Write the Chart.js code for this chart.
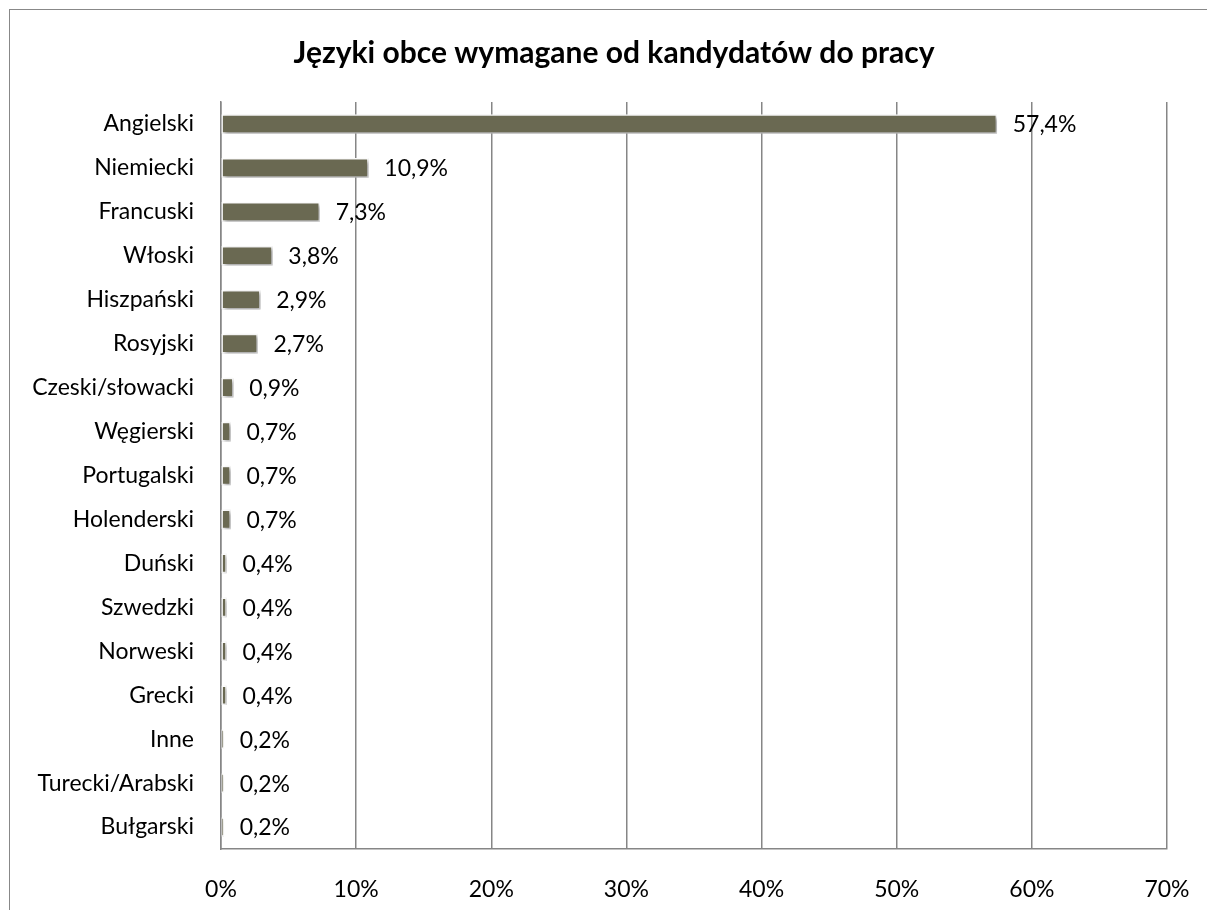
<!DOCTYPE html>
<html><head><meta charset="utf-8">
<script src="https://cdn.jsdelivr.net/npm/chart.js@4/dist/chart.umd.min.js"></script>
<style>
html,body{margin:0;padding:0;background:#fff;overflow:hidden}
#wrap{position:absolute;left:0;top:0;width:1207px;height:910px;overflow:hidden}
#frame{position:absolute;left:9px;top:9px;width:1200px;height:940px;border:1.5px solid #888;box-sizing:border-box}
canvas{position:absolute;left:0;top:0}
</style></head>
<body><div id="wrap"><div id="frame"></div><canvas id="c" width="1207" height="910"></canvas></div>
<script>
const title = 'Języki obce wymagane od kandydatów do pracy';
const categories = ['Angielski','Niemiecki','Francuski','Włoski','Hiszpański','Rosyjski','Czeski/słowacki','Węgierski','Portugalski','Holenderski','Duński','Szwedzki','Norweski','Grecki','Inne','Turecki/Arabski','Bułgarski'];
const values = [57.4,10.9,7.3,3.8,2.9,2.7,0.9,0.7,0.7,0.7,0.4,0.4,0.4,0.4,0.2,0.2,0.2];
const xTicks = [0,10,20,30,40,50,60,70];
const FONT = 'Lato';

const shadowPlugin = {
  id:'shadow',
  beforeDatasetsDraw(chart){const c=chart.ctx;c.save();c.shadowColor='rgba(0,0,0,0.4)';c.shadowBlur=4;c.shadowOffsetX=2;c.shadowOffsetY=2;},
  afterDatasetsDraw(chart){chart.ctx.restore();
    const c=chart.ctx; const meta=chart.getDatasetMeta(0);
    c.save(); c.font='23px "'+FONT+'"'; c.fillStyle='#000'; c.textBaseline='middle'; c.textAlign='left';
    meta.data.forEach((b,i)=>{c.fillText(values[i].toFixed(1).replace('.',',')+'%', b.x+16, b.y+1);});
    c.restore();}
};
const titlePlugin = {
  id:'ttl',
  afterDraw(chart){const c=chart.ctx;c.save();c.font='bold 30px "'+FONT+'"';c.fillStyle='#000';c.textAlign='center';c.textBaseline='middle';c.fillText(title,614,53);c.restore();}
};

new Chart(document.getElementById('c'),{
  type:'bar',
  data:{labels:categories,datasets:[{data:values,backgroundColor:'#6a6952',borderColor:'#ffffff',borderWidth:1.5,barThickness:19,borderSkipped:false}]},
  options:{
    indexAxis:'y',responsive:false,animation:false,devicePixelRatio:1,
    layout:{padding:{top:102,left:0,right:40,bottom:0}},
    plugins:{legend:{display:false},tooltip:{enabled:false}},
    scales:{
      x:{min:0,max:70,
        afterFit(s){s.height=61;s.paddingLeft=0;s.paddingRight=0;},
        afterBuildTicks(s){s.ticks=xTicks.map(v=>({value:v}));},
        grid:{color:'#868686',lineWidth:1.5,drawTicks:false},
        border:{color:'#868686',width:1.5},
        ticks:{font:{family:FONT,size:23},color:'#000',padding:27,callback:v=>v+'%'}},
      y:{afterFit(s){s.width=221;},
        grid:{display:false,drawTicks:false},
        border:{color:'#868686',width:1.5},
        ticks:{font:{family:FONT,size:23},color:'#000',padding:27}}
    }
  },
  plugins:[shadowPlugin,titlePlugin]
});
</script></body></html>
